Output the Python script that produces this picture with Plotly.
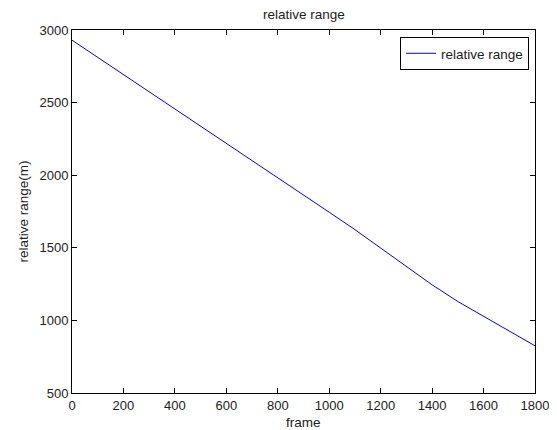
import plotly.graph_objects as go

frame = [0, 100, 200, 300, 400, 500, 600, 700, 800, 900, 1000, 1100, 1200, 1300, 1400, 1500, 1600, 1700, 1800]
rel_range = [2930, 2812, 2695, 2575, 2455, 2335, 2220, 2100, 1985, 1865, 1745, 1625, 1500, 1375, 1245, 1130, 1030, 930, 825]

xticks = [0, 200, 400, 600, 800, 1000, 1200, 1400, 1600, 1800]
yticks = [500, 1000, 1500, 2000, 2500, 3000]

FONT = "Liberation Sans, Arial, sans-serif"
TXT = "#222"
OFF = 8  # default page body margin
W, H = 557 - OFF, 430 - OFF
PL, PR, PT, PB = 72, 535, 30, 393  # plot area in page pixels
L, T = PL - OFF, PT - OFF
R, B = W - (PR - OFF), H - (PB - OFF)
pw, ph = PR - PL, PB - PT

fig = go.Figure()
fig.add_trace(go.Scatter(x=frame, y=rel_range, mode="lines", name="relative range",
                         line=dict(color="#0000ff", width=1)))

axis_common = dict(showgrid=False, zeroline=False, showline=True, linecolor="black", linewidth=1,
                   mirror="ticks", ticks="inside", ticklen=5, tickcolor="black", automargin=False,
                   tickfont=dict(family=FONT, size=13, color=TXT))

fig.update_xaxes(range=[0, 1800], tickvals=xticks, **axis_common)
fig.update_yaxes(range=[500, 3000], tickvals=yticks, **axis_common)

fig.add_annotation(text="relative range", xref="paper", yref="paper", x=0.5, y=1 + (PT - 15) / ph,
                   xanchor="center", yanchor="middle", showarrow=False,
                   font=dict(family=FONT, size=13.5, color=TXT))
fig.add_annotation(text="frame", xref="paper", yref="paper", x=0.5, y=-(422 - PB) / ph,
                   xanchor="center", yanchor="middle", showarrow=False,
                   font=dict(family=FONT, size=13.5, color=TXT))
fig.add_annotation(text="relative range(m)", xref="paper", yref="paper", x=-(PL - 23) / pw, y=0.5,
                   xanchor="center", yanchor="middle", showarrow=False, textangle=-90,
                   font=dict(family=FONT, size=13.5, color=TXT))

fig.update_layout(
    width=W, height=H,
    margin=dict(l=L, r=R, t=T, b=B, autoexpand=False),
    paper_bgcolor="white", plot_bgcolor="white",
    showlegend=True,
    legend=dict(x=(529 - PL) / pw, y=1 - (37 - PT) / ph, xanchor="right", yanchor="top",
                bordercolor="black", borderwidth=1, bgcolor="white",
                font=dict(family=FONT, size=13.5, color=TXT)),
)

fig.write_html("out.html")
